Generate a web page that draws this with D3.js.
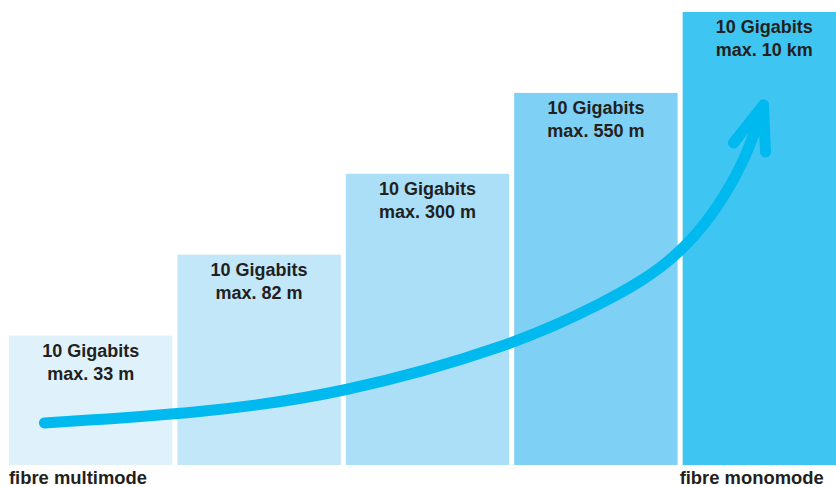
<!DOCTYPE html>
<html>
<head>
<meta charset="utf-8">
<script src="https://cdn.jsdelivr.net/npm/d3@7"></script>
<style>
  body { margin: 0; background: #fff; }
  svg { display: block; }
  text { font-family: "Liberation Sans", Arial, sans-serif; font-weight: bold; fill: #231f20; }
</style>
</head>
<body>
<div id="main"></div>
<script>
const ctx = {
    w: 836,
    h: 487,
};

// data
const speeds = ["10 Gigabits", "10 Gigabits", "10 Gigabits", "10 Gigabits", "10 Gigabits"];
const distances = ["max. 33 m", "max. 82 m", "max. 300 m", "max. 550 m", "max. 10 km"];
const levels = [1.6, 2.6, 3.6, 4.6, 5.6];
const barColors = ["#dff2fb", "#c1e7f9", "#aadff7", "#7ed0f4", "#3fc5f1"];
const fibreLabels = [{i: 0, text: "fibre multimode"}, {i: 4, text: "fibre monomode"}];
// arrow path, in (bar position, level) units
const arrowPts = [[0.21, 0.52], [1.13, 0.64], [1.97, 0.87], [3.0, 1.48],
                  [3.51, 1.98], [4.0, 2.55], [4.36, 3.65], [4.48, 4.45]];

function createChart(svg) {
    let x = d3.scaleBand()
              .domain(d3.range(levels.length))
              .range([9, 846])
              .paddingInner(0.03)
              .paddingOuter(0);
    let xPos = d3.scaleLinear().domain([0, 5]).range([9, 9 + 5 * x.step()]);
    let y = d3.scaleLinear().domain([0, 5.6]).range([465, 12]);

    let bars = svg.selectAll("g.bar")
                  .data(levels)
                  .enter().append("g")
                  .attr("class", "bar")
                  .attr("transform", (d, i) => `translate(${x(i)}, 0)`);

    bars.append("rect")
        .attr("y", d => y(d))
        .attr("width", x.bandwidth())
        .attr("height", d => y(0) - y(d))
        .style("fill", (d, i) => barColors[i]);

    let label = bars.append("text")
        .attr("text-anchor", "middle")
        .style("font-size", "18px");
    label.append("tspan")
        .attr("x", x.bandwidth() / 2)
        .attr("y", d => y(d) + 21)
        .text((d, i) => speeds[i]);
    label.append("tspan")
        .attr("x", x.bandwidth() / 2)
        .attr("y", d => y(d) + 44)
        .text((d, i) => distances[i]);

    // arrow
    let line = d3.line()
                 .x(d => xPos(d[0]))
                 .y(d => y(d[1]))
                 .curve(d3.curveBasis);
    svg.append("path")
       .attr("d", line(arrowPts))
       .style("fill", "none")
       .style("stroke", "#00b9ef")
       .style("stroke-width", 11)
       .style("stroke-linecap", "round")
       .style("stroke-linejoin", "round");

    // arrow head
    let tip = arrowPts[arrowPts.length - 1];
    let tx = xPos(tip[0]), ty = y(tip[1]);
    svg.append("path")
       .attr("d", `M${tx - 30},${ty + 38} L${tx},${ty} L${tx + 2},${ty + 47}`)
       .style("fill", "none")
       .style("stroke", "#00b9ef")
       .style("stroke-width", 11)
       .style("stroke-linecap", "round")
       .style("stroke-linejoin", "round");

    svg.selectAll("text.fibre")
       .data(fibreLabels)
       .enter().append("text")
       .attr("class", "fibre")
       .attr("x", d => x(d.i) - (d.i > 0 ? 3 : 0))
       .attr("y", 484)
       .style("font-size", "18.4px")
       .text(d => d.text);
}

function createViz() {
    let svgEl = d3.select("#main").append("svg");
    svgEl.attr("width", ctx.w);
    svgEl.attr("height", ctx.h);
    createChart(svgEl);
}

createViz();
</script>
</body>
</html>
